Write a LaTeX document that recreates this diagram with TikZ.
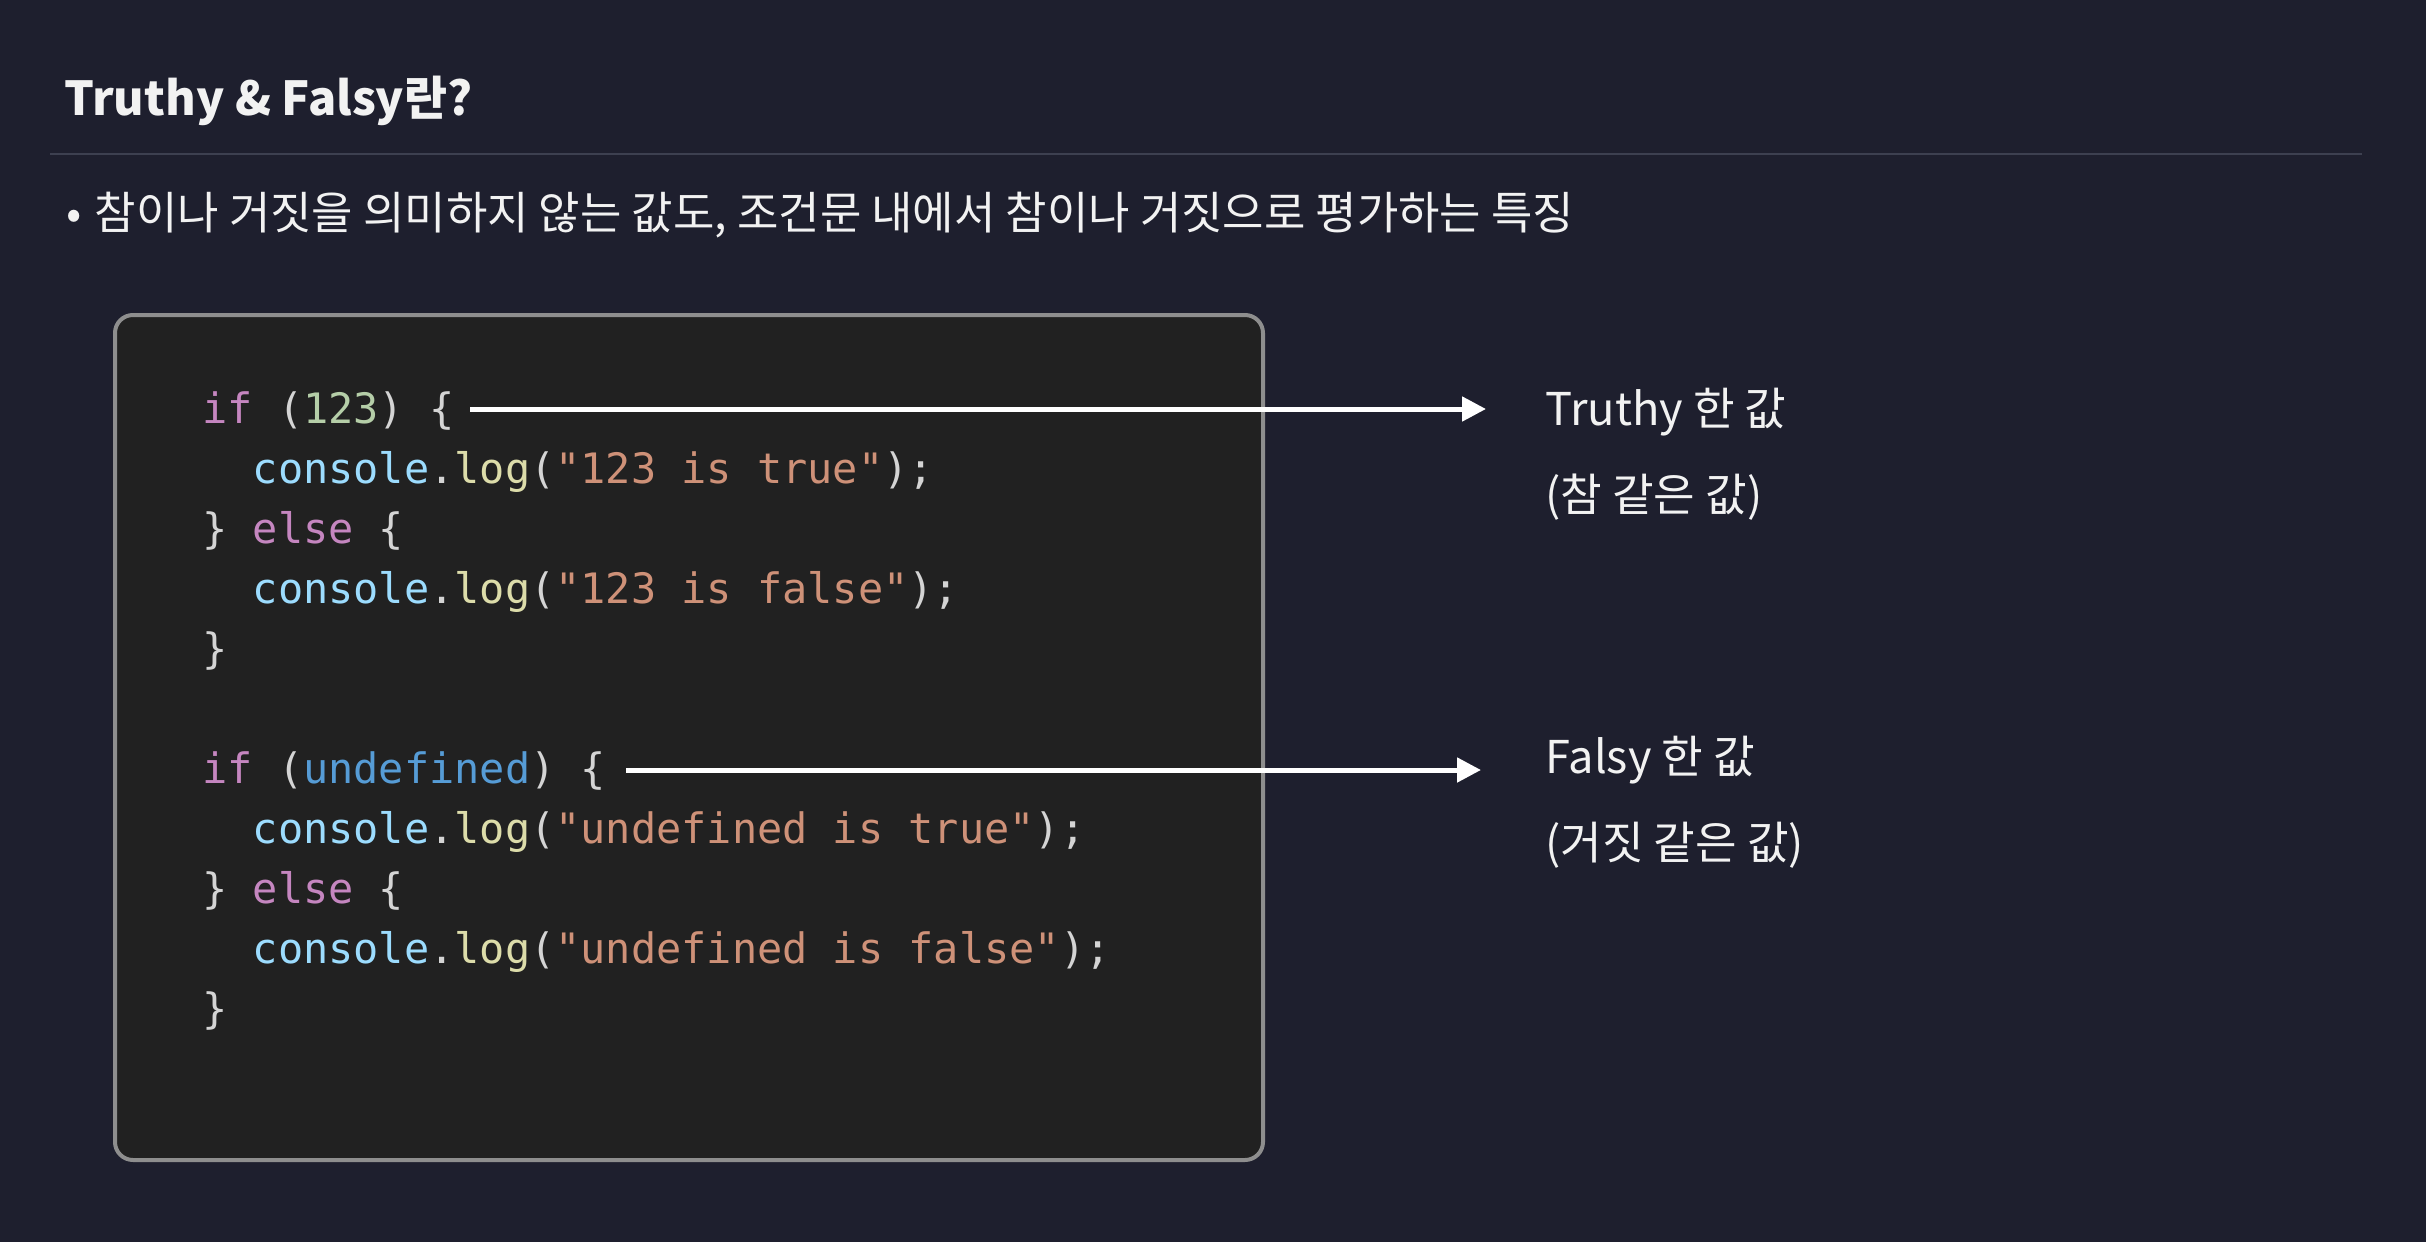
\documentclass[tikz,border=0pt]{standalone}
\usepackage{fontspec}
\setmainfont{Noto Sans CJK KR}
\setmonofont{DejaVu Sans Mono}
\usetikzlibrary{arrows.meta}
\definecolor{bgc}{HTML}{1E1F2E}
\definecolor{rulec}{HTML}{3D4050}
\definecolor{boxfill}{HTML}{212121}
\definecolor{boxline}{HTML}{8E8E8E}
\definecolor{kwc}{HTML}{C586C0}
\definecolor{puc}{HTML}{D4D4D4}
\definecolor{numc}{HTML}{B5CEA8}
\definecolor{varc}{HTML}{9CDCFE}
\definecolor{fnc}{HTML}{DCDCAA}
\definecolor{strc}{HTML}{CE9178}
\definecolor{undc}{HTML}{569CD6}
\definecolor{txtc}{HTML}{F2F2F2}
\newcommand\ckw[1]{\textcolor{kwc}{#1}}
\newcommand\cpu[1]{\textcolor{puc}{#1}}
\newcommand\cnum[1]{\textcolor{numc}{#1}}
\newcommand\cvar[1]{\textcolor{varc}{#1}}
\newcommand\cfn[1]{\textcolor{fnc}{#1}}
\newcommand\cstr[1]{\textcolor{strc}{#1}}
\newcommand\cund[1]{\textcolor{undc}{#1}}
\begin{document}
\begin{tikzpicture}[x=0.5pt,y=-0.5pt,
  lbl/.style={anchor=base west, inner sep=0pt, text=txtc},
  titletxt/.style={lbl, font=\fontsize{23.4pt}{28pt}\selectfont\bfseries},
  bodytxt/.style={lbl, font=\fontsize{22.5pt}{27pt}\selectfont},
  sidetxt/.style={lbl, font=\fontsize{22.6pt}{27pt}\selectfont},
  codetxt/.style={anchor=base west, inner sep=0pt, text=puc, font=\fontsize{20.95pt}{25pt}\selectfont\ttfamily},
  codebox/.style={draw=boxline, fill=boxfill, line width=2pt, rounded corners=9pt},
  pointer/.style={draw=white, line width=2.5pt, -{Triangle[length=12pt,width=12pt]}}
]
\useasboundingbox (0,0) rectangle (2426,1242);
\fill[bgc] (0,0) rectangle (2426,1242);

% title and rule
\node[titletxt] (title) at (64,115) {Truthy \& Falsy란?};
\draw[rulec, line width=1.3pt] (50,154) -- (2362,154);
\node[bodytxt] (bullet) at (66,229) {•\ \hspace{1.5pt}참이나 거짓을 의미하지 않는 값도, 조건문 내에서 참이나 거짓으로 평가하는 특징};

% code box
\draw[codebox] (115,315) rectangle (1263,1160);

\node[codetxt] (c1) at (202,423) {\ckw{if} (\cnum{123}) \{};
\node[codetxt] (c2) at (252.4,483) {\cvar{console}.\cfn{log}(\cstr{"123 is true"});};
\node[codetxt] (c3) at (202,543) {\} \ckw{else} \{};
\node[codetxt] (c4) at (252.4,603) {\cvar{console}.\cfn{log}(\cstr{"123 is false"});};
\node[codetxt] (c5) at (202,663) {\}};
\node[codetxt] (c6) at (202,783) {\ckw{if} (\cund{undefined}) \{};
\node[codetxt] (c7) at (252.4,843) {\cvar{console}.\cfn{log}(\cstr{"undefined is true"});};
\node[codetxt] (c8) at (202,903) {\} \ckw{else} \{};
\node[codetxt] (c9) at (252.4,963) {\cvar{console}.\cfn{log}(\cstr{"undefined is false"});};
\node[codetxt] (c10) at (202,1023) {\}};

% side labels
\node[sidetxt] (t1) at (1545,425) {Truthy 한 값};
\node[sidetxt] (t2) at (1545,511) {(참 같은 값)};
\node[sidetxt] (f1) at (1545,773) {Falsy 한 값};
\node[sidetxt] (f2) at (1545,859) {(거짓 같은 값)};

% arrows
\coordinate (a1s) at (470,409);
\coordinate (a1e) at (1486,409);
\coordinate (a2s) at (626,770);
\coordinate (a2e) at (1481,770);
\draw[pointer] (a1s) -- (a1e);
\draw[pointer] (a2s) -- (a2e);
\end{tikzpicture}
\end{document}
